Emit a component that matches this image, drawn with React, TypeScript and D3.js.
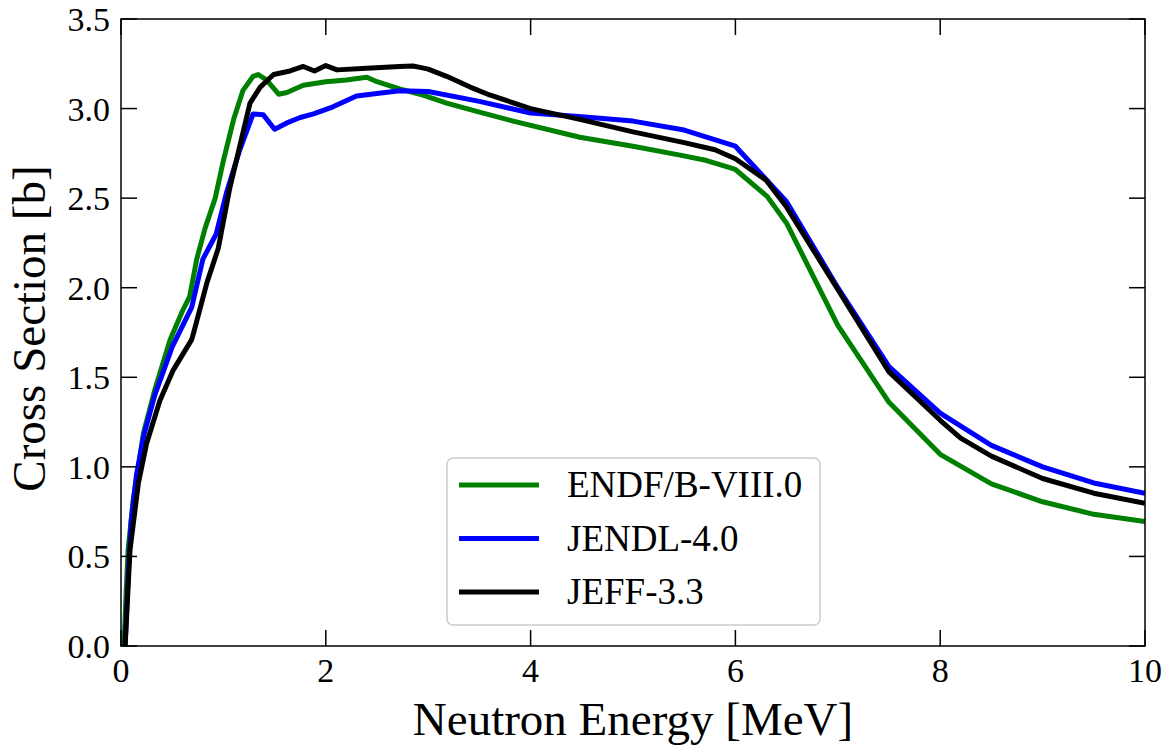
import React from "react";
import * as d3 from "d3";

const endfE = [0.03, 0.05, 0.07, 0.12, 0.17, 0.22, 0.33, 0.48, 0.6, 0.67, 0.74, 0.82, 0.92, 1.0, 1.1, 1.19, 1.29, 1.34, 1.42, 1.54, 1.62, 1.78, 2.0, 2.2, 2.4, 2.5, 2.72, 2.92, 3.18, 3.5, 3.83, 4.48, 5.0, 5.46, 5.72, 6.0, 6.31, 6.5, 7.0, 7.5, 8.0, 8.5, 9.0, 9.5, 10];
const endfV = [0, 0.3, 0.54, 0.82, 1.0, 1.19, 1.43, 1.71, 1.87, 1.95, 2.16, 2.33, 2.5, 2.71, 2.94, 3.1, 3.18, 3.19, 3.16, 3.08, 3.09, 3.13, 3.15, 3.16, 3.175, 3.15, 3.11, 3.08, 3.03, 2.98, 2.93, 2.84, 2.79, 2.74, 2.71, 2.66, 2.51, 2.36, 1.79, 1.36, 1.07, 0.905, 0.805, 0.735, 0.695];

const jendlE = [0.04, 0.07, 0.1, 0.15, 0.22, 0.33, 0.5, 0.69, 0.8, 0.93, 1.03, 1.16, 1.29, 1.39, 1.5, 1.62, 1.75, 1.88, 2.07, 2.3, 2.72, 3.0, 3.5, 4.0, 4.5, 5.0, 5.5, 6.0, 6.5, 7.0, 7.5, 8.0, 8.5, 9.0, 9.5, 10];
const jendlV = [0, 0.4, 0.7, 0.95, 1.17, 1.4, 1.67, 1.89, 2.16, 2.3, 2.53, 2.77, 2.97, 2.965, 2.885, 2.92, 2.95, 2.97, 3.01, 3.07, 3.1, 3.095, 3.04, 2.975, 2.955, 2.93, 2.88, 2.79, 2.48, 2.0, 1.56, 1.3, 1.12, 1.0, 0.91, 0.853];

const jeffE = [0.04, 0.088, 0.17, 0.25, 0.38, 0.51, 0.69, 0.71, 0.84, 0.95, 1.06, 1.16, 1.26, 1.36, 1.49, 1.65, 1.78, 1.89, 2.0, 2.11, 2.4, 2.72, 2.85, 2.92, 3.0, 3.18, 3.41, 3.6, 4.0, 4.48, 5.0, 5.5, 5.8, 6.0, 6.3, 6.5, 7.0, 7.5, 8.0, 8.2, 8.5, 9.0, 9.5, 10];
const jeffV = [0, 0.536, 0.91, 1.13, 1.37, 1.54, 1.71, 1.75, 2.03, 2.22, 2.55, 2.79, 3.03, 3.12, 3.19, 3.21, 3.235, 3.21, 3.24, 3.216, 3.225, 3.235, 3.238, 3.23, 3.22, 3.18, 3.12, 3.076, 3.0, 2.94, 2.87, 2.81, 2.77, 2.72, 2.6, 2.45, 1.99, 1.53, 1.26, 1.16, 1.06, 0.935, 0.853, 0.797];

const seriesNames = ["ENDF/B-VIII.0", "JENDL-4.0", "JEFF-3.3"];
const seriesColors = ["#008000", "#0000ff", "#000000"];
const xTicks = [0, 2, 4, 6, 8, 10];
const yTicks = [0, 0.5, 1.0, 1.5, 2.0, 2.5, 3.0, 3.5];

const W = 1169, H = 745;
const M = { left: 121, right: 1145, top: 19, bottom: 646 };
const FONT = "'Liberation Serif', 'DejaVu Serif', serif";

export default function App() {
  const x = d3.scaleLinear().domain([0, 10]).range([M.left, M.right]);
  const y = d3.scaleLinear().domain([0, 3.5]).range([M.bottom, M.top]);
  const line = d3.line<[number, number]>().x(d => x(d[0])).y(d => y(d[1]));
  const data: [number, number][][] = [
    endfE.map((e, i) => [e, endfV[i]]),
    jendlE.map((e, i) => [e, jendlV[i]]),
    jeffE.map((e, i) => [e, jeffV[i]]),
  ];
  const tl = 16;
  const legX = 447, legY = 458, legW = 373, legH = 167;
  return (
    <svg width={W} height={H} style={{ position: "absolute", left: 0, top: 0, background: "#fff" }} fontFamily={FONT}>
      <defs>
        <clipPath id="plot">
          <rect x={M.left} y={M.top} width={M.right - M.left} height={M.bottom - M.top} />
        </clipPath>
      </defs>
      <g clipPath="url(#plot)">
        {data.map((d, i) => (
          <path key={i} d={line(d) || ""} fill="none" stroke={seriesColors[i]} strokeWidth={5} strokeLinejoin="round" strokeLinecap="butt" />
        ))}
      </g>
      {xTicks.map(t => (
        <g key={"x" + t}>
          <line x1={x(t)} x2={x(t)} y1={M.bottom} y2={M.bottom - tl} stroke="#000" strokeWidth={1.5} />
          <line x1={x(t)} x2={x(t)} y1={M.top} y2={M.top + tl} stroke="#000" strokeWidth={1.5} />
          <text x={x(t)} y={M.bottom + 36} fontSize={34} textAnchor="middle">{t}</text>
        </g>
      ))}
      {yTicks.map(t => (
        <g key={"y" + t}>
          <line x1={M.left} x2={M.left + tl} y1={y(t)} y2={y(t)} stroke="#000" strokeWidth={1.5} />
          <line x1={M.right} x2={M.right - tl} y1={y(t)} y2={y(t)} stroke="#000" strokeWidth={1.5} />
          <text x={M.left - 11} y={y(t) + 12} fontSize={34} textAnchor="end">{t.toFixed(1)}</text>
        </g>
      ))}
      <rect x={M.left} y={M.top} width={M.right - M.left} height={M.bottom - M.top} fill="none" stroke="#000" strokeWidth={1.5} />
      <text x={(M.left + M.right) / 2} y={735} fontSize={47} textAnchor="middle">Neutron Energy [MeV]</text>
      <text transform={`translate(45,${(M.top + M.bottom) / 2 - 4}) rotate(-90)`} fontSize={47} textAnchor="middle">Cross Section [b]</text>
      <rect x={legX} y={legY} width={legW} height={legH} rx={6} fill="#fff" fillOpacity={0.8} stroke="#cccccc" strokeWidth={1.5} />
      {seriesNames.map((n, i) => (
        <g key={n}>
          <line x1={459} x2={539} y1={485 + i * 53.5} y2={485 + i * 53.5} stroke={seriesColors[i]} strokeWidth={5} />
          <text x={567} y={485 + i * 53.5 + 12} fontSize={37}>{n}</text>
        </g>
      ))}
    </svg>
  );
}
